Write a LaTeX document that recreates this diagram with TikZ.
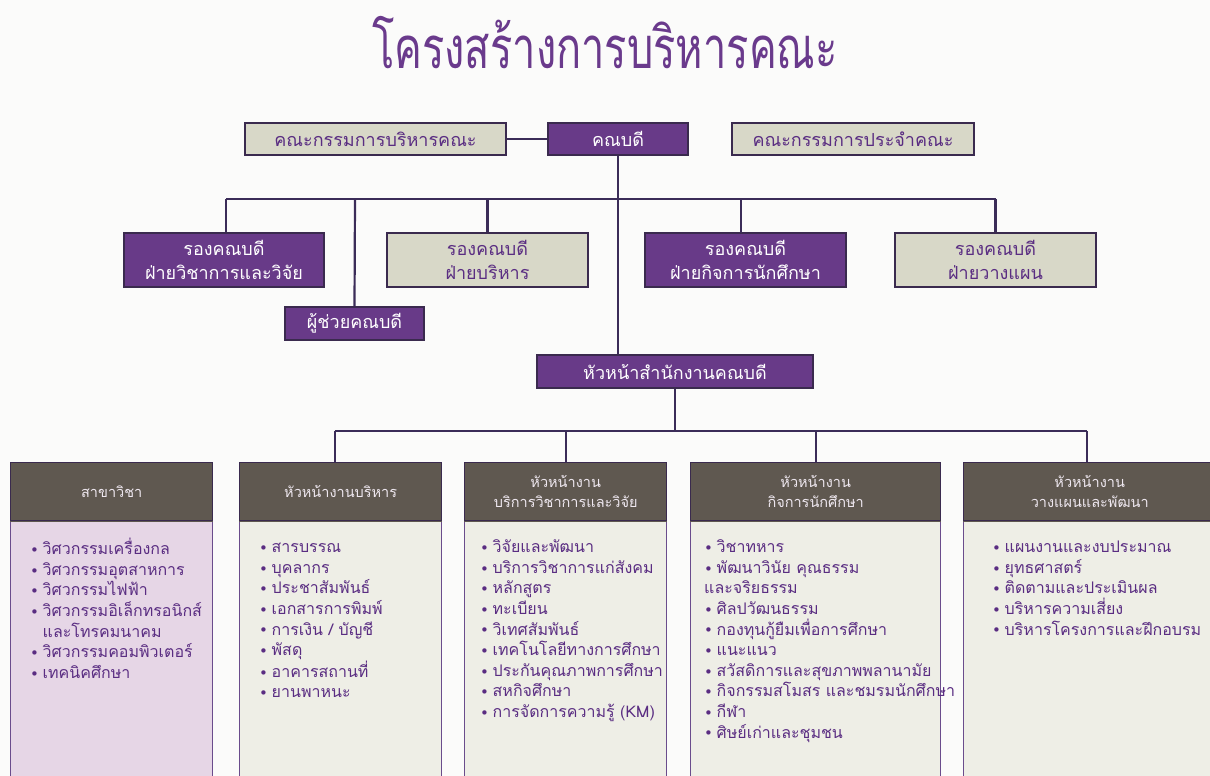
\documentclass[tikz,border=0pt]{standalone}
\usepackage{fontspec}
\usepackage{graphicx}
\newfontfamily\thaifont[Script=Thai]{Loma}
\newfontfamily\dv{DejaVu Sans}
\definecolor{bgc}{HTML}{FBFBFA}
\definecolor{titlec}{HTML}{6A3A8C}
\definecolor{mpurple}{HTML}{683A88}
\definecolor{beige}{HTML}{D8D8C8}
\definecolor{bordc}{HTML}{3A2A4E}
\definecolor{linec}{HTML}{3B2C58}
\definecolor{tpurple}{HTML}{5A2D82}
\definecolor{hdrc}{HTML}{5F5850}
\definecolor{hdrtext}{HTML}{EFE8F0}
\definecolor{bodyA}{HTML}{E6D6E6}
\definecolor{bodyB}{HTML}{EEEEE6}
\definecolor{bodyline}{HTML}{6A4C8C}
\newcommand\bul{\makebox[12.5pt][l]{\dv\fontsize{15}{15}\selectfont\raisebox{-0.8pt}{•}}}
\newcommand\ind{\hspace*{12.5pt}}
\begin{document}
\begin{tikzpicture}[x=1pt,y=-1pt,
  box/.style={draw=bordc,line width=1.6pt,inner sep=0pt,align=center,
    font=\thaifont\fontsize{18}{24}\selectfont},
  graybox/.style={box,fill=beige,text=tpurple},
  purpbox/.style={box,fill=mpurple,text=white},
  hdr/.style={draw=bordc,line width=1.4pt,fill=hdrc,text=hdrtext,inner sep=0pt,align=center,
    font=\thaifont\fontsize{14.5}{20}\selectfont,anchor=north west,minimum height=58pt},
  body/.style={draw=bodyline,line width=0.8pt,inner sep=0pt,anchor=north west,minimum height=270pt},
  items/.style={inner sep=0pt,anchor=north west,align=left,text=tpurple,
    font=\thaifont\fontsize{16}{20.6}\selectfont},
  conn/.style={draw=linec,line width=2.2pt}]
\useasboundingbox[fill=bgc] (0,0) rectangle (1210,776);

% title
\node[text=titlec,font=\thaifont\fontsize{58}{60}\selectfont,anchor=base,inner sep=0pt] (title) at (605,68) {\scalebox{0.717}[1]{โครงสร้างการบริหารคณะ}};

% top row
\node[graybox,minimum width=261pt,minimum height=32pt] (boardA) at (375.5,139) {คณะกรรมการบริหารคณะ};
\node[purpbox,minimum width=140pt,minimum height=32pt] (dean) at (618,139) {คณบดี};
\node[graybox,minimum width=242pt,minimum height=32pt] (boardC) at (853,139) {คณะกรรมการประจำคณะ};

% second row
\node[purpbox,minimum width=200pt,minimum height=54pt] (vA) at (224,260) {รองคณบดี\\ฝ่ายวิชาการและวิจัย};
\node[graybox,minimum width=201pt,minimum height=54pt] (vB) at (487.5,260) {รองคณบดี\\ฝ่ายบริหาร};
\node[purpbox,minimum width=201pt,minimum height=54pt] (vC) at (745.5,260) {รองคณบดี\\ฝ่ายกิจการนักศึกษา};
\node[graybox,minimum width=201pt,minimum height=54pt] (vD) at (995.5,260) {รองคณบดี\\ฝ่ายวางแผน};
\node[purpbox,minimum width=139pt,minimum height=33pt] (asst) at (354.5,323.5) {ผู้ช่วยคณบดี};

% office
\node[purpbox,minimum width=276pt,minimum height=33pt] (office) at (675,371.5) {หัวหน้าสำนักงานคณบดี};

% bottom headers
\node[hdr,minimum width=202pt] (hA) at (10,462) {สาขาวิชา};
\node[hdr,minimum width=202pt] (hB) at (239,462) {หัวหน้างานบริหาร};
\node[hdr,minimum width=202pt] (hC) at (464,462) {หัวหน้างาน\\บริการวิชาการและวิจัย};
\node[hdr,minimum width=250pt] (hD) at (690,462) {หัวหน้างาน\\กิจการนักศึกษา};
\node[hdr,minimum width=252pt] (hE) at (963,462) {หัวหน้างาน\\วางแผนและพัฒนา};

% bodies
\node[body,fill=bodyA,minimum width=202pt] (bA) at (hA.south west) {};
\node[body,fill=bodyB,minimum width=202pt] (bB) at (hB.south west) {};
\node[body,fill=bodyB,minimum width=202pt] (bC) at (hC.south west) {};
\node[body,fill=bodyB,minimum width=250pt] (bD) at (hD.south west) {};
\node[body,fill=bodyB,minimum width=252pt] (bE) at (hE.south west) {};
\draw[draw=hdrc,line width=1.4pt] (hA.south west) -- (hA.south east) (hB.south west) -- (hB.south east)
  (hC.south west) -- (hC.south east) (hD.south west) -- (hD.south east) (hE.south west) -- (hE.south east);

% item lists
\node[items] (iA) at (30,538) {\strut\bul วิศวกรรมเครื่องกล\\\bul วิศวกรรมอุตสาหการ\\\bul วิศวกรรมไฟฟ้า\\\bul วิศวกรรมอิเล็กทรอนิกส์\\\ind และโทรคมนาคม\\\bul วิศวกรรมคอมพิวเตอร์\\\bul เทคนิคศึกษา};
\node[items] (iB) at (259,538) {\strut\bul สารบรรณ\\\bul บุคลากร\\\bul ประชาสัมพันธ์\\\bul เอกสารการพิมพ์\\\bul การเงิน / บัญชี\\\bul พัสดุ\\\bul อาคารสถานที่\\\bul ยานพาหนะ};
\node[items] (iC) at (480,538) {\strut\bul วิจัยและพัฒนา\\\bul บริการวิชาการแก่สังคม\\\bul หลักสูตร\\\bul ทะเบียน\\\bul วิเทศสัมพันธ์\\\bul เทคโนโลยีทางการศึกษา\\\bul ประกันคุณภาพการศึกษา\\\bul สหกิจศึกษา\\\bul การจัดการความรู้ (KM)};
\node[items] (iD) at (704,538) {\strut\bul วิชาทหาร\\\bul พัฒนาวินัย คุณธรรม\\และจริยธรรม\\\bul ศิลปวัฒนธรรม\\\bul กองทุนกู้ยืมเพื่อการศึกษา\\\bul แนะแนว\\\bul สวัสดิการและสุขภาพพลานามัย\\\bul กิจกรรมสโมสร และชมรมนักศึกษา\\\bul กีฬา\\\bul ศิษย์เก่าและชุมชน};
\node[items] (iE) at (992,538) {\strut\bul แผนงานและงบประมาณ\\\bul ยุทธศาสตร์\\\bul ติดตามและประเมินผล\\\bul บริหารความเสี่ยง\\\bul บริหารโครงการและฝึกอบรม};

% connectors
\coordinate (busL) at (226,199);
\coordinate (busR) at (996,199);
\draw[conn] (boardA.east) -- (dean.west);
\draw[conn] (dean.south) -- (dean.south |- office.north);
\draw[conn] (busL) -- (busR);
\draw[conn] (busL) -- (busL |- vA.north);
\draw[conn] (355,199) -- (asst.north);
\draw[conn] (vB.north) -- (vB.north |- busL);
\draw[conn] (741,199) -- (741,233);
\draw[conn] (vD.north) -- (vD.north |- busL);
\coordinate (bus2L) at (335,431);
\coordinate (bus2R) at (1087,431);
\draw[conn] (office.south) -- (office.south |- bus2L);
\draw[conn] (bus2L) -- (bus2R);
\draw[conn] (bus2L) -- (bus2L |- hB.north);
\draw[conn] (hC.north) -- (hC.north |- bus2L);
\draw[conn] (hD.north) -- (hD.north |- bus2L);
\draw[conn] (bus2R) -- (bus2R |- hE.north);
\end{tikzpicture}
\end{document}
